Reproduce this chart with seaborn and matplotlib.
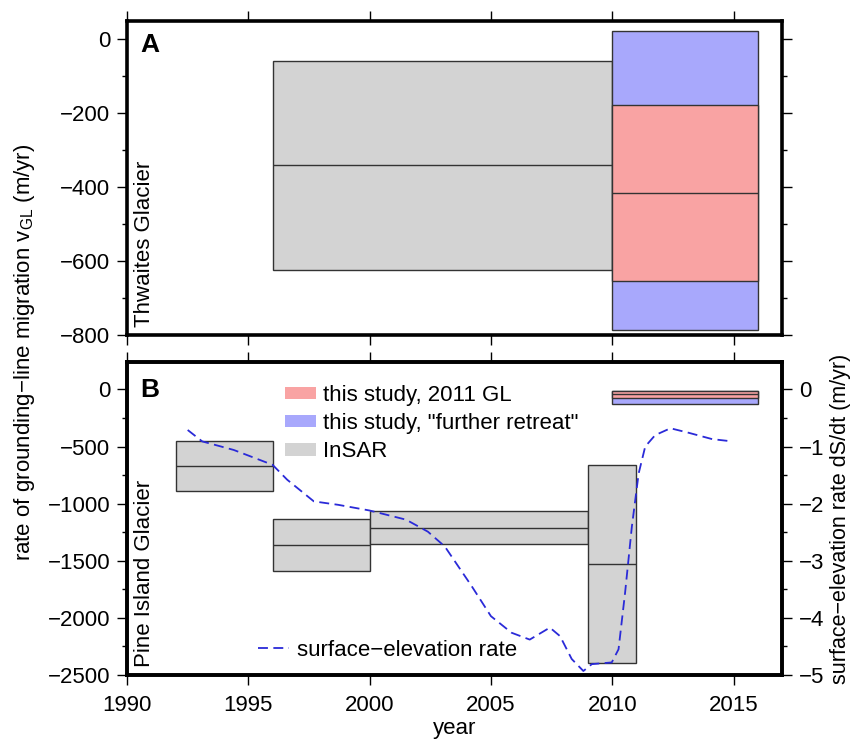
import numpy as np
import pandas as pd
import matplotlib
matplotlib.use("Agg")
import matplotlib.pyplot as plt
import seaborn as sns
from matplotlib.patches import Patch
from matplotlib.lines import Line2D
from matplotlib.ticker import MultipleLocator

# ---- data ----
# Panel A, Thwaites Glacier: grounding-line migration rate (m/yr)
thw_insar_start = [1996]
thw_insar_end = [2010]
thw_insar_top = [-58]
thw_insar_mid = [-340]
thw_insar_bot = [-625]

thw_gl_start = [2010]
thw_gl_end = [2016]
thw_gl_top = [-178]
thw_gl_mid = [-415]
thw_gl_bot = [-654]

thw_retreat_top = [23]
thw_retreat_bot = [-786]

# Panel B, Pine Island Glacier
pig_insar_start = [1992, 1996, 2000, 2009]
pig_insar_end = [1996, 2000, 2009, 2011]
pig_insar_top = [-450, -1130, -1060, -662]
pig_insar_mid = [-670, -1360, -1214, -1525]
pig_insar_bot = [-890, -1590, -1353, -2398]

pig_gl_start = [2010]
pig_gl_end = [2016]
pig_gl_top = [-12]
pig_gl_mid = [-40]
pig_gl_bot = [-75]

pig_retreat_top = [-12]
pig_retreat_bot = [-131]

# surface-elevation rate dS/dt (m/yr)
dsdt_year = [1992.5, 1993.1, 1994.4, 1996.0, 1996.6, 1997.7, 1998.7, 2000.0,
             2001.5, 2002.4, 2003.1, 2004.2, 2005.0, 2005.85, 2006.6, 2007.43,
             2007.85, 2008.33, 2008.81, 2009.16, 2009.98, 2010.26, 2010.53,
             2010.81, 2011.09, 2011.36, 2011.77, 2012.4, 2013.16, 2014.12, 2014.95]
dsdt_rate = [-0.71, -0.91, -1.06, -1.32, -1.58, -1.96, -2.02, -2.12,
             -2.28, -2.49, -2.75, -3.44, -3.97, -4.26, -4.38, -4.17,
             -4.32, -4.72, -4.93, -4.81, -4.78, -4.55, -3.56,
             -2.40, -1.47, -1.00, -0.80, -0.68, -0.76, -0.87, -0.91]

GREY = "#d3d3d3"
RED = "#f9a3a3"
BLUE = "#a8a8fc"
EDGE = "#333333"
LINE = "#2a2ad8"
FS = 16

sns.set_theme(style="ticks")
plt.rcParams["font.family"] = ["Liberation Sans", "DejaVu Sans"]
plt.rcParams.update({
    "mathtext.fontset": "custom", "mathtext.rm": "Liberation Sans",
    "text.color": "black", "axes.labelcolor": "black",
    "axes.linewidth": 2.6, "xtick.direction": "out", "ytick.direction": "out",
    "xtick.major.size": 7.2, "ytick.major.size": 7.2, "xtick.minor.size": 3.6,
    "ytick.minor.size": 3.6, "xtick.major.width": 1.0, "ytick.major.width": 1.0,
    "ytick.minor.width": 1.0, "xtick.labelsize": FS, "ytick.labelsize": FS,
    "axes.edgecolor": "black", "xtick.color": "black", "ytick.color": "black",
    "ytick.major.pad": 5, "xtick.major.pad": 7,
})


def draw_boxes(ax, start, end, top, bot, color, mid=None):
    start, end = np.array(start), np.array(end)
    top, bot = np.array(top), np.array(bot)
    ax.bar(start, top - bot, width=end - start, bottom=bot, align="edge",
           color=color, edgecolor=EDGE, linewidth=1.0, zorder=2)
    if mid is not None:
        ax.hlines(mid, start, end, color=EDGE, linewidth=1.0, zorder=3)


fig = plt.figure(figsize=(8.56, 7.42), dpi=100)
axA = fig.add_axes([0.1484, 0.5485, 0.7652, 0.4232])
axB = fig.add_axes([0.1484, 0.0903, 0.7652, 0.4218])

# ---- panel A ----
draw_boxes(axA, thw_insar_start, thw_insar_end, thw_insar_top, thw_insar_bot, GREY, thw_insar_mid)
draw_boxes(axA, thw_gl_start, thw_gl_end, thw_retreat_top, thw_retreat_bot, BLUE)
draw_boxes(axA, thw_gl_start, thw_gl_end, thw_gl_top, thw_gl_bot, RED, thw_gl_mid)
axA.set_xlim(1990, 2017)
axA.set_ylim(-800, 50)
axA.yaxis.set_major_locator(MultipleLocator(200))
axA.yaxis.set_minor_locator(MultipleLocator(100))
axA.xaxis.set_major_locator(MultipleLocator(5))
axA.tick_params(axis="x", top=True, bottom=True, labelbottom=False)
axA.tick_params(axis="y", which="both", left=True, right=True)
axA.text(0.02, 0.962, "A", transform=axA.transAxes, fontsize=19,
         fontweight="bold", va="top", ha="left")
axA.text(0.026, 0.025, "Thwaites Glacier", transform=axA.transAxes, fontsize=FS,
         rotation=90, va="bottom", ha="center")

# ---- panel B ----
draw_boxes(axB, pig_insar_start, pig_insar_end, pig_insar_top, pig_insar_bot, GREY, pig_insar_mid)
draw_boxes(axB, pig_gl_start, pig_gl_end, pig_retreat_top, pig_retreat_bot, BLUE)
draw_boxes(axB, pig_gl_start, pig_gl_end, pig_gl_top, pig_gl_bot, RED, pig_gl_mid)
axB.set_xlim(1990, 2017)
axB.set_ylim(-2500, 240)
axB.yaxis.set_major_locator(MultipleLocator(500))
axB.yaxis.set_minor_locator(MultipleLocator(250))
axB.xaxis.set_major_locator(MultipleLocator(5))
axB.tick_params(axis="x", top=True, bottom=True)
axB.tick_params(axis="y", which="both", left=True, right=False)
axB.set_xlabel("year", fontsize=FS, labelpad=2)
axB.text(0.02, 0.95, "B", transform=axB.transAxes, fontsize=19,
         fontweight="bold", va="top", ha="left", zorder=6)
axB.text(0.026, 0.025, "Pine Island Glacier", transform=axB.transAxes, fontsize=FS,
         rotation=90, va="bottom", ha="center")

ax2 = axB.twinx()
df = pd.DataFrame({"year": dsdt_year, "rate": dsdt_rate})
sns.lineplot(data=df, x="year", y="rate", ax=ax2, color=LINE,
             linewidth=1.3, linestyle=(0, (5.5, 3)), zorder=5)
ax2.set_xlim(1990, 2017)
ax2.set_ylim(-2500 / 500, 240 / 500)
ax2.yaxis.set_major_locator(MultipleLocator(1))
ax2.yaxis.set_minor_locator(MultipleLocator(0.5))
ax2.tick_params(axis="y", which="both", right=True)
ax2.tick_params(axis="y", which="major", pad=5)
ax2.set_ylabel("surface\u2212elevation rate dS/dt (m/yr)", fontsize=15.5, labelpad=4)
ax2.set_xlabel("")
for sp in ax2.spines.values():
    sp.set_linewidth(2.6)

handles = [Patch(facecolor=RED, edgecolor="none", label="this study, 2011 GL"),
           Patch(facecolor=BLUE, edgecolor="none", label='this study, "further retreat"'),
           Patch(facecolor=GREY, edgecolor="none", label="InSAR")]
leg1 = ax2.legend(handles=handles, loc="upper left", bbox_to_anchor=(0.241, 0.927),
                  frameon=False, fontsize=FS, handlelength=1.4, handleheight=0.5,
                  handletextpad=0.3, labelspacing=0.32, borderpad=0, borderaxespad=0)
ax2.add_artist(leg1)
line_h = [Line2D([], [], color=LINE, linewidth=1.3, linestyle=(0, (5.5, 3)),
                 label="surface\u2212elevation rate")]
ax2.legend(handles=line_h, loc="lower left", bbox_to_anchor=(0.2, 0.045),
           frameon=False, fontsize=FS, handlelength=1.4, handletextpad=0.35,
           borderpad=0, borderaxespad=0)

fig.text(25 / 856, 1 - 352 / 742,
         "rate of grounding\u2212line migration v$_{\\mathrm{GL}}$ (m/yr)",
         rotation=90, va="center", ha="center", fontsize=FS)

fig.savefig("out.png", dpi=100)
